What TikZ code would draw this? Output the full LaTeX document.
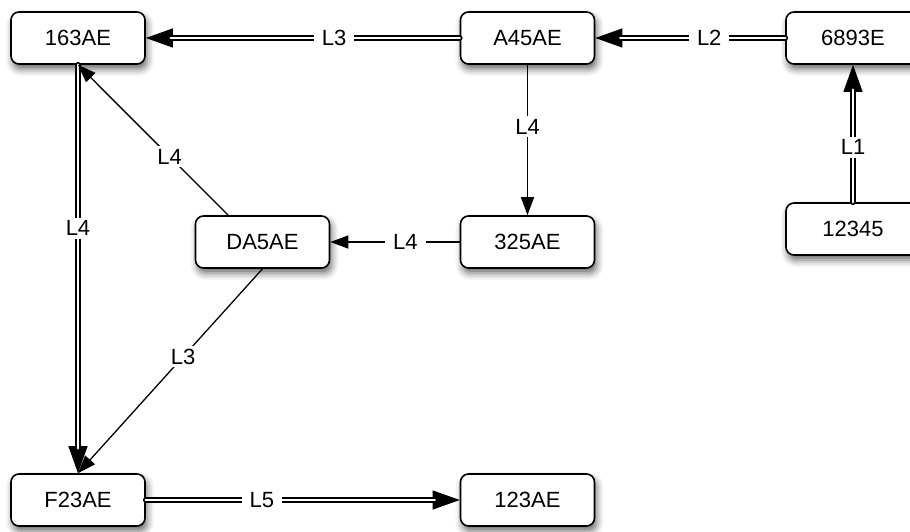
\documentclass[tikz,border=0pt]{standalone}
\usepackage{fontspec}
\setmainfont{Liberation Sans}
\usetikzlibrary{arrows.meta,shadows.blur}

\tikzset{
  box/.style={draw, line width=1.6pt, rounded corners=8pt, fill=white,
    minimum width=134pt, minimum height=52pt, inner sep=0pt,
    font=\fontsize{22}{25}\selectfont,
    blur shadow={shadow xshift=2pt, shadow yshift=-5pt,
      shadow blur radius=7pt, shadow opacity=60}},
  lbl/.style={fill=white, inner xsep=8pt, inner ysep=3pt,
    font=\fontsize{22}{25}\selectfont},
  single/.style={line width=1.3pt, -{Triangle[length=18pt,width=13pt]}},
  bigtip/.style={line width=1pt, -{Triangle[length=27pt,width=19pt]}},
  dblline/.style={double=white, line width=1.5pt, double distance=2.8pt,
    line cap=round, shorten >=25pt},
}

% double connector: solid arrow tip underneath, double shaft on top
\newcommand\dblconn[4][0.4]{%
  \draw[bigtip] (#2) -- (#3);
  \draw[dblline] (#2) -- node[lbl, pos=#1]{#4} (#3);}

\begin{document}
\begin{tikzpicture}[x=1pt, y=-1pt]
\useasboundingbox (0,0) rectangle (910,531);

% boxes
\node[box] (n163) at (78,38)    {163AE};
\node[box] (nA45) at (527.5,38) {A45AE};
\node[box] (n689) at (853,38)   {6893E};
\node[box] (nDA5) at (262.5,242){DA5AE};
\node[box] (n325) at (527.5,242){325AE};
\node[box] (n123) at (853,229)  {12345};
\node[box] (nF23) at (78,500)   {F23AE};
\node[box] (n1AE) at (527.5,500){123AE};

% double connectors
\dblconn{nA45}{n163}{L3}
\dblconn{n689}{nA45}{L2}
\dblconn{n123}{n689}{L1}
\dblconn{n163}{nF23}{L4}
\dblconn[0.37]{nF23}{n1AE}{L5}

% single connectors
\draw[single] (nA45) -- node[lbl, pos=0.41]{L4} (n325);
\draw[single] (n325) -- node[lbl, pos=0.42]{L4} (nDA5);
\draw[single] (nDA5.142.6) -- node[lbl, pos=0.39]{L4} (n163.south);
\draw[single] (nDA5.south) -- node[lbl, pos=0.43]{L3} (nF23.north);

\end{tikzpicture}
\end{document}
